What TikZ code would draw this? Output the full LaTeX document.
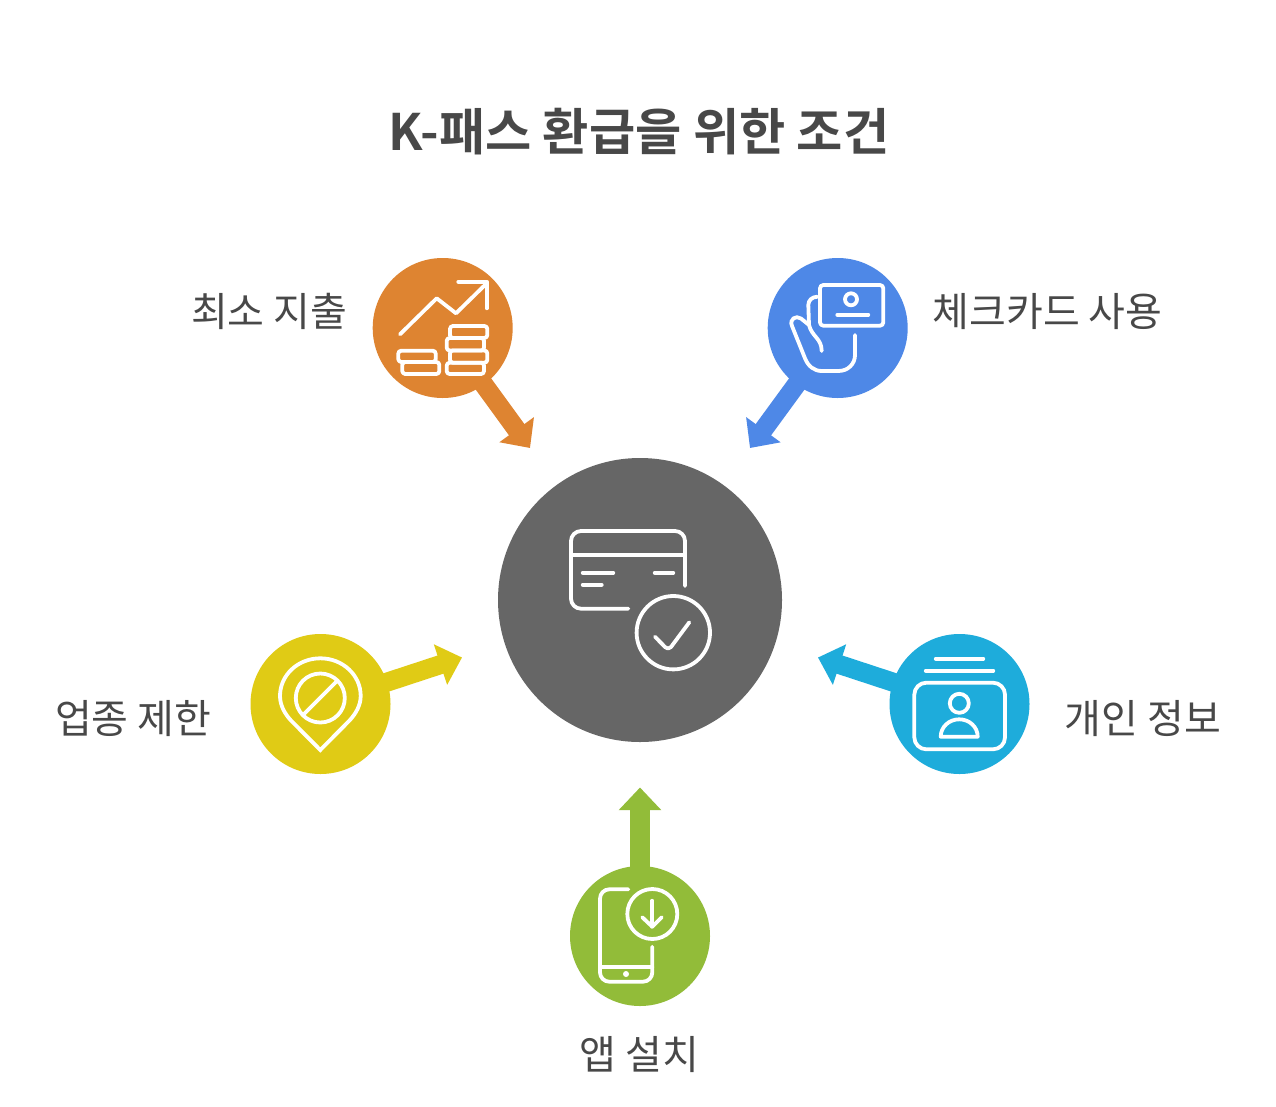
\documentclass[tikz,border=0pt]{standalone}
\usepackage{fontspec}
\setmainfont{Noto Sans CJK KR}
\newfontfamily\krbold{Noto Sans CJK KR Bold}
\usetikzlibrary{arrows.meta}
\definecolor{corange}{HTML}{DE8431}
\definecolor{cblue}{HTML}{4E88E7}
\definecolor{cgrey}{HTML}{666666}
\definecolor{cyellow}{HTML}{E0CB15}
\definecolor{ccyan}{HTML}{1EACDB}
\definecolor{cgreen}{HTML}{92BC39}
\definecolor{ctext}{HTML}{484848}
\tikzset{
  disc/.style={circle,draw=none,inner sep=0pt,minimum size=105pt},
  hub/.style={circle,draw=none,fill=cgrey,inner sep=0pt,minimum size=213pt},
  conn/.style={line width=14.3pt,shorten <=-3pt,-{Stealth[length=17pt,width=31pt,inset=0pt]}},
  ic/.style={draw=white,line width=2.85pt,line cap=round,line join=round},
  lab/.style={text=ctext,font=\fontsize{30pt}{33pt}\selectfont,inner sep=0pt},
  ttl/.style={text=ctext,font=\krbold\fontsize{37.7pt}{42pt}\selectfont,inner sep=0pt}
}
\begin{document}
\begin{tikzpicture}[x=.75pt,y=-.75pt]
\useasboundingbox (0,0) rectangle (1276,1106);
\fill[white] (0,0) rectangle (1276,1106);
\node[ttl] (title) at (639,132) {K-패스 환급을 위한 조건};
\node[hub] (hubc) at (640,600) {};
\node[disc,fill=corange] (spend) at (442.7,328) {};
\node[disc,fill=cblue] (check) at (837.7,328) {};
\node[disc,fill=cyellow] (limit) at (320.5,704) {};
\node[disc,fill=ccyan] (info) at (959.5,704) {};
\node[disc,fill=cgreen] (app) at (640,936) {};
\coordinate (t1) at (530,448);
\coordinate (t2) at (750,448);
\coordinate (t3) at (462,657.5);
\coordinate (t4) at (818,657.5);
\coordinate (t5) at (640,787.5);
\draw[conn,corange] (spend) -- (t1);
\draw[conn,cblue] (check) -- (t2);
\draw[conn,cyellow] (limit) -- (t3);
\draw[conn,ccyan] (info) -- (t4);
\draw[conn,cgreen] (app) -- (t5);
\node[lab,anchor=east] (l1) at (347.5,311.5) {최소 지출};
\node[lab,anchor=west] (l2) at (932.5,311.5) {체크카드 사용};
\node[lab,anchor=east] (l3) at (211.5,718.5) {업종 제한};
\node[lab,anchor=west] (l4) at (1064.5,718.5) {개인 정보};
\node[lab] (l5) at (639.5,1055) {앱 설치};
% orange icon
\draw[ic] (400,334.3) -- (436.7,298.3) -- (456,313.3) -- (486.7,283.3);
\draw[ic] (458.3,281.7) -- (486.7,281.7) -- (486.7,308.3);
\begin{scope}[ic,rounded corners=2.2pt]
\draw (398.3,350.7) rectangle (435.7,362);
\draw (402.3,362) rectangle (439.3,374);
\draw (450,326) rectangle (487.3,338);
\draw (446.7,338) rectangle (484,350.5);
\draw (450,350.5) rectangle (487.3,362.7);
\draw (446.7,362.7) rectangle (484,374);
\end{scope}
% blue icon
\draw[ic,rounded corners=2.5pt] (820,285) rectangle (883.3,325.7);
\draw[ic] (851,299.3) circle (6);
\draw[ic] (837.3,314.7) -- (868.3,314.7);
\draw[ic] (817.3,296.7) .. controls (812,297) and (808.5,300) .. (808.3,305) -- (809,325);
\draw[ic] (821.7,351) .. controls (821.5,338) and (812,337) .. (809,325)
  -- (801,318.5) .. controls (796,315) and (789,319) .. (792,326)
  -- (805,358.3) .. controls (808,366) and (814,371) .. (821.7,371)
  -- (838.3,371) .. controls (848,371) and (855,364) .. (855,355) -- (855,335);
% hub icon
\draw[ic,rounded corners=7.5pt] (685,586) -- (685,531) -- (571,531) -- (571,608.7) -- (628.3,608.7);
\draw[ic] (571,554.7) -- (685,554.7);
\draw[ic] (582.7,572.7) -- (613.3,572.7);
\draw[ic] (582.7,584.7) -- (601.7,584.7);
\draw[ic] (654.7,572.7) -- (673.3,572.7);
\draw[ic] (673.3,632.7) circle (36.7);
\draw[ic] (655,636.7) -- (665,647) .. controls (667,649) and (669,649) .. (671,647) -- (689.3,622.3);
% yellow icon
\draw[ic,line join=miter] (320.3,750) -- (291,720.5) .. controls (284.5,713.5) and (280,705) .. (280,696)
  .. controls (280,675) and (298,658.3) .. (320.3,658.3)
  .. controls (342.6,658.3) and (360.7,675) .. (360.7,696)
  .. controls (360.7,705) and (356,713.5) .. (349.5,720.5) -- cycle;
\draw[ic] (320.3,698) circle (24.5);
\draw[ic] (304,714) -- (337,681);
% cyan icon
\draw[ic] (935.7,658.7) -- (983.3,658.7);
\draw[ic] (925.7,670.7) -- (993.3,670.7);
\draw[ic,rounded corners=9pt] (914.3,682.7) rectangle (1005,749.3);
\draw[ic] (959.3,703.3) circle (9.5);
\draw[ic] (940.7,736.7) .. controls (940.7,727) and (949,719.3) .. (959.2,719.3)
  .. controls (969.4,719.3) and (977.7,727) .. (977.7,736.7) -- cycle;
% green icon
\draw[ic,rounded corners=7pt] (628.3,889.3) -- (600,889.3) -- (600,981.7) -- (652.3,981.7) -- (652.3,946.7);
\draw[ic] (600,967.3) -- (652.3,967.3);
\fill[white] (626,974) circle (3);
\draw[ic] (652.3,914) circle (25);
\draw[ic] (652.3,900.7) -- (652.3,926.7);
\draw[ic] (642.3,917.3) -- (652.3,926.7) -- (661.7,917.3);
\end{tikzpicture}
\end{document}
